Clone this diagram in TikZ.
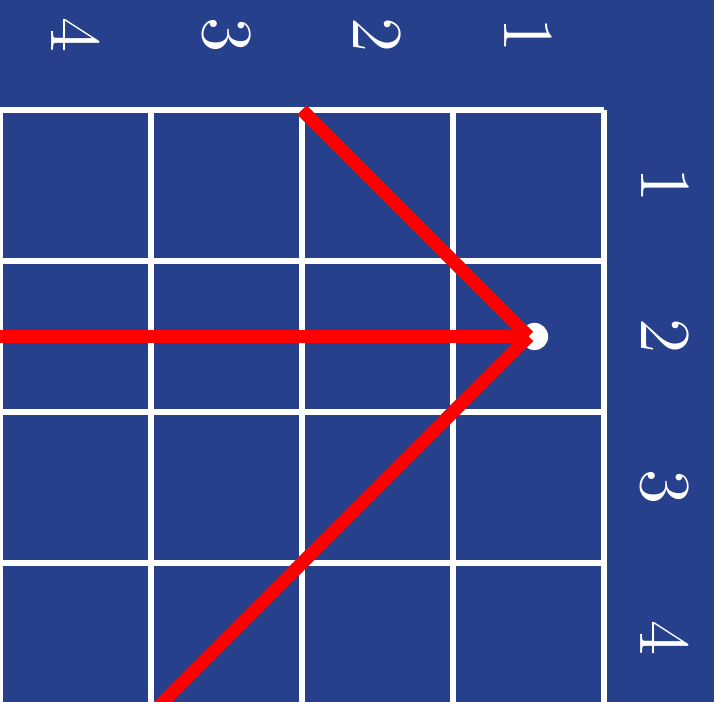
\documentclass[tikz,border=0pt]{standalone}
\usetikzlibrary{positioning}
\definecolor{boardclr}{RGB}{38,64,139}
\definecolor{pathclr} {RGB}{255,0,0}

\begin{document}
\begin{tikzpicture}[
    font=\rmfamily\fontsize{13.5}{15}\selectfont,
    gridline/.style ={draw=white, line width=1.1pt},
    idx/.style      ={text=white, rotate=-90, inner sep=0pt},
    ray/.style      ={draw=pathclr, line width=2.5pt},
    piece/.style    ={circle, fill=white, inner sep=0pt, minimum size=1.8mm},
]

% =============== Canvas ===============
\useasboundingbox (0,0) rectangle (4.7285,-4.649);
\fill[boardclr] (0,0) rectangle (4.7285,-4.649);
\clip (0,0) rectangle (4.7285,-4.649);

% =============== Board ===============
\foreach \i in {0,...,4}{%
  \draw[gridline] (\i,-0.7285) -- (\i,-4.7285);
  \draw[gridline] (0,-0.7285-\i) -- (4,-0.7285-\i);
}

% =============== Indices ===============
\foreach \n in {1,...,4}{%
  \node[idx] (col\n) at (4.5-\n,-0.232) {\n};
  \node[idx] (row\n) at (4.404,-0.2285-\n) {\n};
}

% =============== Piece and its rays ===============
\coordinate (pt) at (3.5,-2.2285);
\node[piece] (dot) at (3.54,-2.2285) {};
\coordinate (endW) at (0,-2.2285);
\coordinate (endN) at (2,-0.7285);
\coordinate (endS) at (1,-4.7285);

\foreach \e in {endW, endN, endS}{%
  \draw[ray] (pt) -- (\e);
}

\end{tikzpicture}
\end{document}
